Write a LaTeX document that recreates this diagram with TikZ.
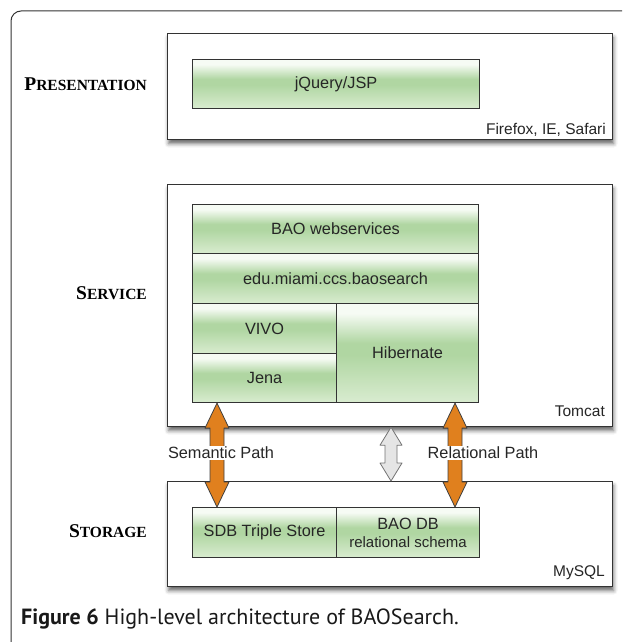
\documentclass[tikz,border=0pt]{standalone}
\usepackage{fontspec}
\setmainfont{Liberation Sans}
\newfontfamily\headfont{Liberation Serif}
\newfontfamily\capfont{PT Sans}
\usetikzlibrary{shadows.blur,calc}
\definecolor{gtop}{HTML}{F6FBF4}
\definecolor{gmid}{HTML}{B0D6A2}
\definecolor{gbot}{HTML}{D9ECD0}
\definecolor{lineC}{HTML}{333333}
\definecolor{orangeA}{HTML}{E0801E}
\pgfdeclareverticalshading{greenshade}{100bp}{color(0bp)=(gbot); color(25bp)=(gbot); color(49bp)=(gmid); color(55bp)=(gmid); color(70bp)=(gtop); color(75bp)=(gtop); color(100bp)=(gtop)}
\newcommand\myfatarrow[6]{%
  \path[#6] let \p1=(#1), \p2=(#2) in
    (\x1,\y1) -- (\x1+#4,\y1-#5) -- (\x1+#3,\y1-#5) -- (\x1+#3,\y2+#5) --
    (\x1+#4,\y2+#5) -- (\x1,\y2) -- (\x1-#4,\y2+#5) -- (\x1-#3,\y2+#5) --
    (\x1-#3,\y1-#5) -- (\x1-#4,\y1-#5) -- cycle;}
\tikzset{
  gbox/.style={draw=lineC, line width=1.1pt, shade, shading=greenshade, inner sep=0pt,
    anchor=north west, align=center, font=\fontsize{16.3}{19}\selectfont, text=black!85},
  obox/.style={draw=lineC, line width=1.2pt, fill=white, anchor=north west, inner sep=0pt,
    blur shadow={shadow xshift=1pt, shadow yshift=-4pt, shadow blur radius=4pt, shadow opacity=60}},
  layerlbl/.style={anchor=east, inner sep=0pt, font=\headfont\bfseries, text=black},
  envlbl/.style={anchor=base east, inner sep=0pt, font=\fontsize{15.5}{18}\selectfont, text=black!85},
  pathlbl/.style={fill=white, inner sep=1.5pt, font=\fontsize{16.3}{19}\selectfont, text=black!85},
  oarrow/.style={fill=orangeA, draw=black!75, line width=0.8pt, line join=round},
  garrow/.style={fill=black!10, draw=black!55, line width=0.8pt, line join=round}
}
\newcommand\bigsc[2]{{\fontsize{19.5}{21}\selectfont #1}{\fontsize{15.5}{17}\selectfont #2}}
\begin{document}
\begin{tikzpicture}[x=1pt,y=-1pt]
\useasboundingbox (0,0) rectangle (622,642);
% page frame
\draw[lineC, line width=1pt, rounded corners=10pt] (11,642) -- (11,11) -- (622,11);

% layer boxes
\node[obox, minimum width=445, minimum height=106] (pres) at (167,33) {};
\node[obox, minimum width=445, minimum height=242] (serv) at (167,184) {};
\node[obox, minimum width=445, minimum height=105] (stor) at (167,481) {};

% layer labels
\node[layerlbl] (lpres) at (147,84) {\bigsc{P}{RESENTATION}};
\node[layerlbl] (lserv) at (147,293) {\bigsc{S}{ERVICE}};
\node[layerlbl] (lstor) at (147,531) {\bigsc{S}{TORAGE}};

% environment labels
\node[envlbl] (ff) at (606,134) {Firefox, IE, Safari};
\node[envlbl] (tc) at (605,416) {Tomcat};
\node[envlbl] (my) at (605,576) {MySQL};

% green components
\node[gbox, minimum width=287, minimum height=49] (jq) at (192,59) {jQuery/JSP};
\node[gbox, minimum width=286, minimum height=49] (bws) at (192,204) {BAO webservices};
\node[gbox, minimum width=286, minimum height=50] (edu) at (192,253) {edu.miami.ccs.baosearch};
\node[gbox, minimum width=144, minimum height=50] (vivo) at (192,303) {VIVO};
\node[gbox, minimum width=144, minimum height=49] (jena) at (192,353) {Jena};
\node[gbox, minimum width=142, minimum height=99] (hib) at (336,303) {Hibernate};
\node[gbox, minimum width=144, minimum height=50] (sdb) at (192,507) {SDB Triple Store};
\node[gbox, minimum width=143, minimum height=50] (bdb) at (336,507)
  {BAO DB\\[-1pt]{\fontsize{15}{18}\selectfont relational schema}};

% connector end points
\coordinate (semT) at (jena.south -| 217,0);
\coordinate (semB) at (sdb.north -| 217,0);
\coordinate (relT) at (hib.south -| 455,0);
\coordinate (relB) at (bdb.north -| 455,0);
\coordinate (midT) at (serv.south -| 391,0);
\coordinate (midB) at (stor.north -| 391,0);

% arrows
\myfatarrow{semT}{semB}{7pt}{12pt}{25pt}{oarrow}
\myfatarrow{relT}{relB}{7pt}{12pt}{25pt}{oarrow}
\myfatarrow{midT}{midB}{6pt}{11pt}{18pt}{garrow}

% path labels
\node[pathlbl] (sem) at (221,453) {Semantic Path};
\node[pathlbl] (rel) at (483,453) {Relational Path};

% caption
\node[anchor=west, inner sep=0pt, font=\capfont\fontsize{22}{25}\selectfont, text=black!90] (cap) at (21,619)
  {\textbf{Figure 6} High-level architecture of BAOSearch.};
\end{tikzpicture}
\end{document}
